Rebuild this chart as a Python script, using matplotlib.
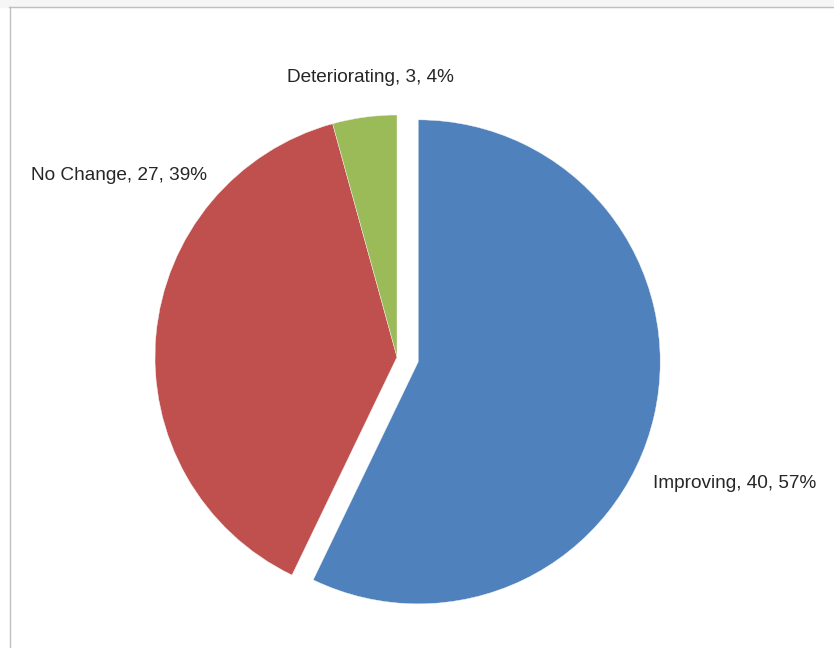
import matplotlib.pyplot as plt
from matplotlib.lines import Line2D

# données
categories = ["Improving", "No Change", "Deteriorating"]
valeurs = [40, 27, 3]
couleurs = ["#4F81BD", "#C0504D", "#9BBB59"]
eclatement = [0.09, 0, 0]

plt.rcParams['font.family'] = ['Liberation Sans', 'DejaVu Sans']

fig = plt.figure(figsize=(8.34, 6.48), dpi=100)
ax = fig.add_axes([0, 0, 1, 1])

# le camembert (sens horaire, départ en haut)
total = sum(valeurs)
ax.pie(valeurs, colors=couleurs, explode=eclatement, startangle=90,
       counterclock=False, radius=1.0,
       wedgeprops=dict(linewidth=0.3, edgecolor="#f4f4f4"))

# échelle : 1 unité = 242 px, centre à (397, 357) px
r = 242.0
cx, cy = 397.0, 648 - 357.0
ax.set_xlim(-cx / r, (834 - cx) / r)
ax.set_ylim(-cy / r, (648 - cy) / r)
ax.set_aspect("equal")
ax.axis("off")

# étiquettes "catégorie, valeur, pourcentage"
positions = [(735, 483), (119, 175), (370, 78)]  # px (centre du texte)
for cat, val, (px, py) in zip(categories, valeurs, positions):
    txt = "{c}, {v}, {p}%".format(c=cat, v=val, p=round(100 * val / total))
    ax.text(px / 834, 1 - py / 648, txt, transform=ax.transAxes,
            ha="center", va="center", fontsize=13.7, color="#262626")

# cadre gris (gauche et haut)
fig.add_artist(Line2D([9.5 / 834, 9.5 / 834], [0, 1 - 7 / 648],
                      transform=fig.transFigure, color="#bfbfbf", lw=1))
fig.add_artist(Line2D([9 / 834, 1], [1 - 7 / 648, 1 - 7 / 648],
                      transform=fig.transFigure, color="#bfbfbf", lw=1))
fig.patches.append(plt.Rectangle((0, 1 - 6.5 / 648), 1, 6.5 / 648,
                                 transform=fig.transFigure, color="#f6f6f6",
                                 zorder=-1))

fig.savefig("out.png", dpi=100)
